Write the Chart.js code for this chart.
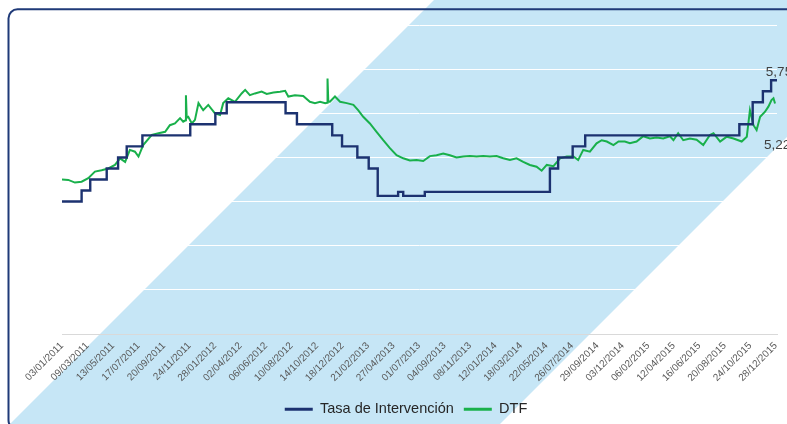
<!DOCTYPE html>
<html><head><meta charset="utf-8">
<script src="https://cdn.jsdelivr.net/npm/chart.js@4"></script>
<style>html,body{margin:0;padding:0;background:#fff;}#wrap{width:787px;height:424px;}</style>
</head><body><div id="wrap"><canvas id="c" width="787" height="424"></canvas></div>
<script>
// ---- DATA ----
const inicio = '03/01/2011';
const fin = '31/12/2015';
const etiquetasEje = ['03/01/2011','09/03/2011','13/05/2011','17/07/2011','20/09/2011','24/11/2011','28/01/2012','02/04/2012','06/06/2012','10/08/2012','14/10/2012','18/12/2012','21/02/2013','27/04/2013','01/07/2013','04/09/2013','08/11/2013','12/01/2014','18/03/2014','22/05/2014','26/07/2014','29/09/2014','03/12/2014','06/02/2015','12/04/2015','16/06/2015','20/08/2015','24/10/2015','28/12/2015'];

// Tasa de Intervención: fechas de cambio y nivel (%)
const tasaFechas = ['03/01/2011','22/02/2011','16/03/2011','27/04/2011','26/05/2011','17/06/2011','27/07/2011','26/11/2011','29/01/2012','27/02/2012','26/07/2012','24/08/2012','22/11/2012','17/12/2012','25/01/2013','23/02/2013','18/03/2013','09/05/2013','22/05/2013','16/07/2013','31/05/2014','21/06/2014','28/07/2014','29/08/2014','26/09/2015','30/10/2015','25/11/2015','16/12/2015','31/12/2015'];
const tasaValores = [3.00,3.25,3.50,3.75,4.00,4.25,4.50,4.75,5.00,5.25,5.00,4.75,4.50,4.25,4.00,3.75,3.13,3.22,3.13,3.22,3.75,4.00,4.25,4.50,4.75,5.25,5.50,5.75,5.75];

// DTF: días desde 03/01/2011 y valor (%)
const dtfDias = [0,16,33,50,67,84,101,118,135,148,161,173,186,195,207,229,246,263,275,288,301,309,315,316,318,322,331,339,348,360,373,390,403,411,424,441,458,467,479,492,509,522,539,556,569,577,594,615,632,645,658,671,676,677,679,683,696,709,726,743,755,768,785,802,819,836,853,870,887,904,921,938,955,972,989,1006,1023,1040,1057,1074,1091,1108,1125,1142,1159,1176,1193,1210,1223,1236,1253,1270,1287,1304,1316,1329,1346,1363,1376,1389,1406,1419,1435,1448,1465,1482,1499,1516,1533,1550,1559,1571,1584,1601,1618,1635,1652,1661,1678,1695,1712,1733,1746,1754,1763,1771,1780,1792,1801,1809,1814,1818];
const dtfValores = [3.50,3.49,3.43,3.45,3.53,3.68,3.71,3.75,3.83,3.98,3.90,4.17,4.13,4.02,4.28,4.51,4.55,4.58,4.73,4.77,4.89,4.81,4.84,5.41,4.90,4.92,4.77,4.85,5.23,5.07,5.19,5.00,4.96,5.23,5.34,5.26,5.45,5.53,5.41,5.45,5.49,5.44,5.47,5.49,5.51,5.38,5.41,5.39,5.26,5.23,5.26,5.23,5.24,5.79,5.26,5.26,5.38,5.26,5.23,5.19,5.07,4.92,4.77,4.58,4.39,4.21,4.05,3.98,3.93,3.94,3.92,4.03,4.05,4.09,4.05,4.00,4.02,4.03,4.02,4.03,4.02,4.03,3.98,3.94,3.98,3.90,3.83,3.79,3.70,3.83,3.80,3.98,4.02,4.02,3.94,4.17,4.13,4.32,4.39,4.36,4.28,4.36,4.36,4.32,4.36,4.48,4.43,4.45,4.43,4.48,4.39,4.55,4.39,4.43,4.40,4.28,4.51,4.55,4.36,4.47,4.43,4.36,4.47,5.07,4.73,4.62,4.92,5.03,5.15,5.30,5.34,5.22];

const seriesNombres = ['Tasa de Intervención','DTF'];
const ejeY = {min:0, max:7, paso:1};

// ---- helpers ----
function dia(s){const p=s.split('/');return Date.UTC(+p[2],+p[1]-1,+p[0]);}
const t0 = dia(inicio);
function diasDesde(s){return Math.round((dia(s)-t0)/86400000);}
const fmt = v => v.toFixed(2).replace('.',',');

const tasaData = tasaFechas.map((f,i)=>({x:diasDesde(f), y:tasaValores[i]}));
const dtfData = dtfDias.map((d,i)=>({x:d, y:dtfValores[i]}));
const tickDias = etiquetasEje.map(diasDesde);
const FONT = '"Liberation Sans", Arial, sans-serif';

const fondo = {
  id:'fondo',
  beforeDraw(chart){
    const ctx=chart.ctx; ctx.save();
    ctx.fillStyle='#ffffff'; ctx.fillRect(0,0,chart.width,chart.height);
    ctx.fillStyle='#c6e6f6';
    ctx.beginPath(); ctx.moveTo(434,0); ctx.lineTo(924,0); ctx.lineTo(500,424); ctx.lineTo(10,424); ctx.closePath(); ctx.fill();
    ctx.strokeStyle='#1f3a78'; ctx.lineWidth=2;
    ctx.beginPath(); ctx.roundRect(8.5,9.3,830,420,9); ctx.stroke();
    ctx.restore();
  }
};
const etiquetasFinales = {
  id:'etiquetasFinales',
  afterDatasetsDraw(chart){
    const ctx=chart.ctx; ctx.save();
    ctx.font='13.5px '+FONT;
    ctx.fillStyle='#404040'; ctx.textAlign='center'; ctx.textBaseline='middle';
    const offs=[-8,42];
    chart.data.datasets.forEach((ds,i)=>{
      const meta=chart.getDatasetMeta(i); const pt=meta.data[meta.data.length-1];
      const v=ds.data[ds.data.length-1].y;
      ctx.fillText(fmt(v), pt.x+2, pt.y+offs[i]);
    });
    ctx.restore();
  }
};

new Chart(document.getElementById('c'), {
  type:'line',
  data:{datasets:[
    {label:seriesNombres[0], data:tasaData, borderColor:'#1c3270', backgroundColor:'#1c3270', borderWidth:2.4, stepped:true, pointRadius:0, tension:0},
    {label:seriesNombres[1], data:dtfData, borderColor:'#19b04b', backgroundColor:'#19b04b', borderWidth:2, pointRadius:0, tension:0}
  ]},
  options:{
    responsive:false, animation:false, devicePixelRatio:1,
    layout:{padding:{left:35,right:10,top:25,bottom:-2.5}},
    scales:{
      x:{type:'linear', min:0, max:diasDesde(fin),
        afterBuildTicks(s){ s.ticks = tickDias.map(v=>({value:v})); },
        afterFit(s){ s.height=58; s.paddingRight=0; s.paddingLeft=0; },
        ticks:{autoSkip:false, minRotation:45, maxRotation:45, padding:6, color:'#595959',
          font:{family:FONT, size:10},
          callback(v){ const i=tickDias.indexOf(v); return i>=0?etiquetasEje[i]:''; }},
        grid:{display:false, drawTicks:false},
        border:{display:true, color:'#d9d9d9', width:1}
      },
      y:{min:ejeY.min, max:ejeY.max,
        afterFit(s){ s.width=27; },
        ticks:{display:false, stepSize:ejeY.paso},
        grid:{drawTicks:false, color:c=>c.tick.value===0?'#d9d9d9':'#ffffff', lineWidth:1},
        border:{display:false}
      }
    },
    plugins:{
      legend:{position:'bottom', labels:{boxWidth:28, boxHeight:3, padding:10, color:'#262626',
        font:{family:FONT, size:14.5},
        generateLabels(chart){ const it=Chart.defaults.plugins.legend.labels.generateLabels(chart); it.forEach(o=>{o.lineWidth=0; o.fillStyle=o.strokeStyle;}); return it; }}},
      tooltip:{enabled:false}
    }
  },
  plugins:[fondo, etiquetasFinales]
});
</script>
</body></html>
